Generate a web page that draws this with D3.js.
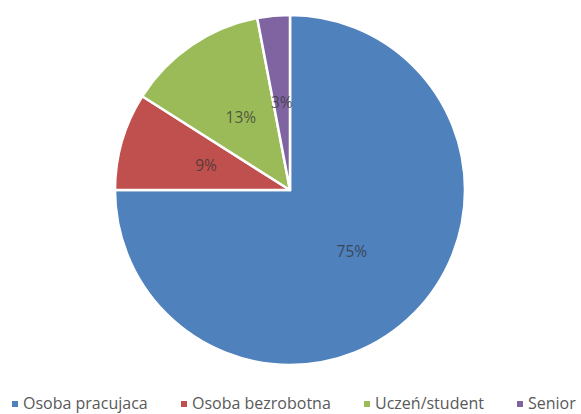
<!DOCTYPE html>
<html>
<head>
<meta charset="utf-8">
<script src="https://cdn.jsdelivr.net/npm/d3@7"></script>
<style>
	body { margin: 0; background: #fff; }
	svg { display: block; }
</style>
</head>
<body>
<svg id="chart" width="581" height="414"></svg>
<script>
// values
const categories = ["Osoba pracujaca", "Osoba bezrobotna", "Uczeń/student", "Senior"];
const shares = [75, 9, 13, 3];
const colors = ["#4F81BD", "#C0504D", "#9BBB59", "#8064A2"];

const svg = d3.select("#chart");
const cx = 290, cy = 190, radius = 175;

const data = categories.map((name, i) => ({ name: name, value: shares[i], color: colors[i] }));

const pie = d3.pie()
	.sort(null)
	.value(d => d.value);

const arc = d3.arc()
	.innerRadius(0)
	.outerRadius(radius);

// labels sit about halfway out
const labelArc = d3.arc()
	.innerRadius(radius * 0.5)
	.outerRadius(radius * 0.5);

const g = svg.append("g")
	.attr("transform", `translate(${cx},${cy})`);

const arcs = pie(data);

g.selectAll("path")
	.data(arcs)
	.enter()
	.append("path")
	.attr("d", arc)
	.attr("fill", d => d.data.color)
	.attr("stroke", "#fff")
	.attr("stroke-width", 2.5)
	.attr("stroke-linejoin", "round");

g.selectAll("text")
	.data(arcs)
	.enter()
	.append("text")
	.attr("transform", d => `translate(${labelArc.centroid(d)})`)
	.attr("text-anchor", "middle")
	.attr("dy", "0.35em")
	.attr("font-family", "'Open Sans', sans-serif")
	.attr("font-size", 15.5)
	.attr("fill", "#333")
	.attr("fill-opacity", 0.75)
	.text(d => d.data.value + "%");

// legend along the bottom
const legendX = [12, 181, 364, 517];
const legend = svg.append("g")
	.attr("font-family", "'Open Sans', sans-serif")
	.attr("font-size", 16)
	.attr("fill", "#595959");

const items = legend.selectAll("g")
	.data(data)
	.enter()
	.append("g")
	.attr("transform", (d, i) => `translate(${legendX[i]},409)`);

items.append("rect")
	.attr("x", 0)
	.attr("y", -8)
	.attr("width", 6)
	.attr("height", 6)
	.attr("fill", d => d.color);

items.append("text")
	.attr("x", 11)
	.attr("y", 0)
	.text(d => d.name);
</script>
</body>
</html>
